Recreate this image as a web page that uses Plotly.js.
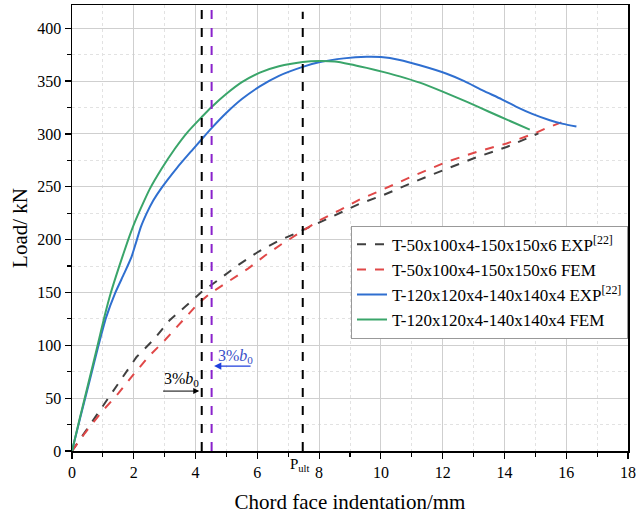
<!DOCTYPE html>
<html>
<head>
<meta charset="utf-8">
<script src="https://cdn.plot.ly/plotly-3.0.1.min.js"></script>
<style>html,body{margin:0;padding:0;background:#fff;}#chart{width:640px;height:521px;}</style>
</head>
<body>
<div id="chart"></div>
<script>
// ---- data ----
const seriesNames = [
  'T-50x100x4-150x150x6 EXP<sup>[22]</sup>',
  'T-50x100x4-150x150x6 FEM',
  'T-120x120x4-140x140x4 EXP<sup>[22]</sup>',
  'T-120x120x4-140x140x4 FEM'
];

const t50ExpX = [0, 0.45, 0.85, 1.28, 1.7, 2.09, 2.63, 3.17, 3.66, 4.2, 4.79, 5.38, 6.03, 6.7, 7.4, 8.2, 9.32, 10.07, 11.1, 12.13, 13.1, 14.07, 14.6, 15.1];
const t50ExpY = [0, 19, 35.6, 54.5, 72, 89, 105, 124, 136.5, 150.6, 163, 176, 188.5, 199, 208, 219, 234, 242, 255, 267, 278, 287.6, 294, 300.5];

const t50FemX = [0, 0.42, 0.96, 1.5, 1.98, 2.47, 3.01, 3.55, 4.09, 4.47, 5.06, 5.71, 6.25, 6.8, 7.4, 8.0, 8.67, 9.32, 10.07, 11.1, 12.13, 13.1, 14.07, 14.93, 15.4, 15.85];
const t50FemY = [0, 17, 37, 54.5, 72, 89, 105, 122, 139.7, 149, 160, 172.8, 185, 196, 207, 218, 228, 238, 247.5, 261, 273.6, 283, 291, 300, 306, 311];

const t120ExpX = [0, 0.27, 0.55, 0.84, 1.1, 1.39, 1.69, 1.93, 2.06, 2.23, 2.42, 2.63, 2.9, 3.4, 3.9, 4.2, 4.52, 5.0, 5.5, 6.08, 6.7, 7.47, 8.03, 8.8, 9.54, 10.0, 10.61, 11.26, 12.13, 12.7, 13.31, 13.9, 14.39, 14.9, 15.47, 15.9, 16.33];
const t120ExpY = [0, 32, 64, 98, 126, 149, 168, 184, 196, 212, 225, 237, 249, 268, 285, 295, 305.5, 320, 333, 345, 355, 363.5, 368, 371.5, 373, 372.7, 370, 365, 357, 350, 341, 333, 325.6, 319, 313, 309.5, 307];

const t120FemX = [0, 0.26, 0.53, 0.82, 1.05, 1.25, 1.52, 1.82, 2.04, 2.31, 2.52, 2.9, 3.33, 3.75, 4.2, 4.52, 5.0, 5.5, 6.08, 6.7, 7.47, 8.0, 8.5, 9.0, 9.54, 10.1, 10.61, 11.26, 12.0, 12.77, 13.5, 14.2, 14.82];
const t120FemY = [0, 32, 64, 99, 127, 149, 174, 200, 217, 235, 248, 267, 286, 302, 316, 325.5, 338, 349, 358, 364, 368, 369, 368.5, 366, 362.5, 358.5, 354.5, 348.5, 340, 330.5, 321, 312, 304];

// reference lines (x positions) and labels
const refLineX = [4.2, 4.52, 7.47];
const xTickVals = [0, 2, 4, 6, 8, 10, 12, 14, 16, 18];
const yTickVals = [0, 50, 100, 150, 200, 250, 300, 350, 400];
const pultLabel = 'P<sub>ult</sub>';
const b0Label = '3%<i>b</i><sub>0</sub>';
// arrow annotations: [tailX, headX, y]
const blackArrow = [2.9, 4.12, 56.7];
const blueArrow = [5.83, 4.6, 80.4];
// label positions: [x, y]
const blackLabelPos = [3.55, 68];
const blueLabelPos = [5.3, 89.5];

// ---- chart ----
const SERIF = '"Liberation Serif", "Times New Roman", serif';
const colors = ['#404040', '#e04848', '#2f6fd0', '#3aa56a'];

const traces = [
  {x: t50ExpX, y: t50ExpY, name: seriesNames[0], mode: 'lines', line: {color: colors[0], width: 2, dash: 'dash'}},
  {x: t50FemX, y: t50FemY, name: seriesNames[1], mode: 'lines', line: {color: colors[1], width: 2, dash: 'dash'}},
  {x: t120ExpX, y: t120ExpY, name: seriesNames[2], mode: 'lines', line: {color: colors[2], width: 2, shape: 'spline', smoothing: 0.5}},
  {x: t120FemX, y: t120FemY, name: seriesNames[3], mode: 'lines', line: {color: colors[3], width: 2, shape: 'spline', smoothing: 0.5}}
];

const lineColors = ['#000000', '#8a22cc', '#000000'];
const shapes = refLineX.map((x, i) => ({
  type: 'line', xref: 'x', yref: 'paper', x0: x, x1: x, y0: 0, y1: i === 2 ? 0.985 : 1,
  line: {color: lineColors[i], width: 2, dash: 'dash'}
}));

const annotations = [
  {x: blackArrow[1], y: blackArrow[2], ax: blackArrow[0], ay: blackArrow[2], axref: 'x', ayref: 'y', xref: 'x', yref: 'y',
   text: '', showarrow: true, arrowhead: 2, arrowsize: 1.2, arrowwidth: 1, arrowcolor: '#000'},
  {x: blackLabelPos[0], y: blackLabelPos[1], xref: 'x', yref: 'y', text: b0Label, showarrow: false, font: {family: SERIF, size: 16, color: '#000'}},
  {x: blueArrow[1], y: blueArrow[2], ax: blueArrow[0], ay: blueArrow[2], axref: 'x', ayref: 'y', xref: 'x', yref: 'y',
   text: '', showarrow: true, arrowhead: 2, arrowsize: 1.2, arrowwidth: 1.2, arrowcolor: '#1f3fdd'},
  {x: blueLabelPos[0], y: blueLabelPos[1], xref: 'x', yref: 'y', text: b0Label, showarrow: false, font: {family: SERIF, size: 16, color: '#3a4fc8'}},
  {x: refLineX[2], y: 0, xref: 'x', yref: 'paper', yanchor: 'top', yshift: -3, xshift: -3, text: pultLabel, showarrow: false,
   font: {family: SERIF, size: 15, color: '#000'}}
];

const layout = {
  width: 640, height: 521,
  margin: {l: 72, r: 12, t: 5, b: 70},
  paper_bgcolor: '#fff', plot_bgcolor: '#fff',
  font: {family: SERIF, size: 16, color: '#000'},
  showlegend: true,
  legend: {x: 1, xanchor: 'right', y: 0.505, yanchor: 'top', bgcolor: '#fff', bordercolor: '#999', borderwidth: 1,
           font: {family: SERIF, size: 17, color: '#000'}, tracegroupgap: 0},
  xaxis: {
    range: [0, 18], tickvals: xTickVals, ticks: 'outside', ticklen: 6, tickwidth: 1.2, tickcolor: '#000',
    showline: true, linecolor: '#000', linewidth: 1.5, mirror: true, zeroline: false,
    showgrid: true, gridcolor: '#cfcfcf', gridwidth: 1,
    tickfont: {family: SERIF, size: 16, color: '#000'},
    minor: {dtick: 1, ticks: 'outside', ticklen: 4, tickcolor: '#000', showgrid: true, gridcolor: '#e2e2e2', griddash: 'dot'},
    title: {text: 'Chord face indentation/mm', font: {family: SERIF, size: 21, color: '#000'}, standoff: 14}
  },
  yaxis: {
    range: [0, 422], tickvals: yTickVals, ticks: 'outside', ticklen: 6, tickwidth: 1.2, tickcolor: '#000',
    showline: true, linecolor: '#000', linewidth: 1.5, mirror: true, zeroline: false,
    showgrid: true, gridcolor: '#cfcfcf', gridwidth: 1,
    tickfont: {family: SERIF, size: 16, color: '#000'},
    minor: {dtick: 25, ticks: 'outside', ticklen: 4, tickcolor: '#000', showgrid: true, gridcolor: '#e2e2e2', griddash: 'dot'},
    title: {text: 'Load/ kN', font: {family: SERIF, size: 21, color: '#000'}, standoff: 4}
  },
  shapes: shapes,
  annotations: annotations
};

Plotly.newPlot('chart', traces, layout, {displayModeBar: false, staticPlot: true});
</script>
</body>
</html>
